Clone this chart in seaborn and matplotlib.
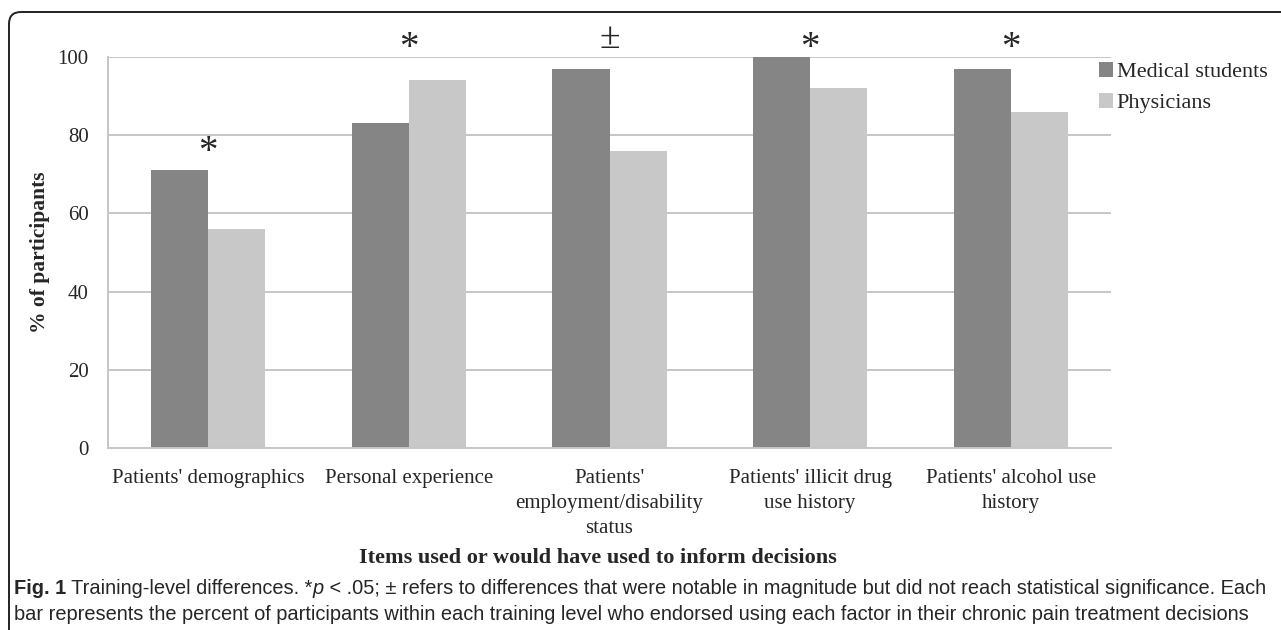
import matplotlib
matplotlib.use("Agg")
import matplotlib.pyplot as plt
import matplotlib.patches as mpatches
import matplotlib.transforms as mtransforms
import pandas as pd
import seaborn as sns

# data
items = ["Patients' demographics", "Personal experience",
         "Patients'\nemployment/disability\nstatus",
         "Patients' illicit drug\nuse history", "Patients' alcohol use\nhistory"]
medical_students = [71, 83, 97, 100, 97]
physicians = [56, 94, 76, 92, 86]
groups = ["Medical students", "Physicians"]
sig_marks = ["*", "*", "\u00b1", "*", "*"]
sig_y = [77, 103.6, 104.6, 103.6, 103.6]

df = pd.DataFrame({
    "item": items * 2,
    "pct": medical_students + physicians,
    "group": [groups[0]] * len(items) + [groups[1]] * len(items),
})

sns.set_style("white")
plt.rcParams["font.family"] = ["Liberation Serif", "DejaVu Serif"]

W, H = 1281, 630
fig = plt.figure(figsize=(W / 100, H / 100), dpi=100)
ax = fig.add_axes([108 / W, (H - 448) / H, (1111 - 108) / W, (448 - 57) / H])

sns.barplot(data=df, x="item", y="pct", hue="group", order=items, hue_order=groups,
            palette=["#858585", "#c8c8c8"], width=0.57, linewidth=0, ax=ax)

ax.set_ylim(0, 100)
ax.set_xlim(-0.5, len(items) - 0.5)
ax.set_yticks(range(0, 101, 20))
ax.grid(axis="y", color="#c6c6c6", linewidth=1.4)
ax.set_axisbelow(True)
for s in ["top", "right"]:
    ax.spines[s].set_visible(False)
for s in ["left", "bottom"]:
    ax.spines[s].set_color("#c6c6c6")
    ax.spines[s].set_linewidth(1.4)
ax.tick_params(axis="y", length=5, width=1.4, color="#c6c6c6", labelsize=15, pad=9)
ax.tick_params(axis="x", length=0, labelsize=15, pad=15)
for lab in ax.get_xticklabels():
    lab.set_linespacing(1.45)

ax.set_ylabel("% of participants", fontsize=15.5, fontweight="bold")
ax.yaxis.set_label_coords(-0.058, 0.5)
ax.set_xlabel("Items used or would have used to inform decisions", fontsize=16, fontweight="bold")
ax.xaxis.set_label_coords(0.488, -0.255)

for i, (m, y) in enumerate(zip(sig_marks, sig_y)):
    if m == "*":
        ax.text(i, y - 1.5, m, ha="center", va="center", fontsize=28, clip_on=False)
    else:
        ax.text(i, y, m, ha="center", va="center", fontsize=27, clip_on=False)

ax.legend(loc="upper left", bbox_to_anchor=(0.988, 0.988), frameon=False, fontsize=16,
          handlelength=0.65, handleheight=0.65, handletextpad=0.15, labelspacing=0.5,
          borderpad=0, borderaxespad=0)

# rounded frame around the figure panel
frame = mpatches.FancyBboxPatch((9, -30), W + 40, H - 12 + 30,
                                boxstyle="round,pad=0,rounding_size=12",
                                transform=mtransforms.IdentityTransform(),
                                fill=False, edgecolor="#222222", linewidth=1.4)
fig.patches.append(frame)

# caption
cap_font = ["Liberation Sans", "DejaVu Sans"]
renderer = fig.canvas.get_renderer()


def write_line(parts, x, y):
    for txt, weight, style in parts:
        t = fig.text(x, y, txt, fontsize=14.4, family=cap_font, fontweight=weight,
                     fontstyle=style, va="center", ha="left")
        bb = t.get_window_extent(renderer=renderer)
        x += bb.width / W


write_line([("Fig. 1", "bold", "normal"),
            (" Training-level differences. *", "normal", "normal"),
            ("p", "normal", "italic"),
            (" < .05; \u00b1 refers to differences that were notable in magnitude but did not "
             "reach statistical significance. Each", "normal", "normal")],
           14 / W, (H - 589) / H)
write_line([("bar represents the percent of participants within each training level who endorsed "
             "using each factor in their chronic pain treatment decisions", "normal", "normal")],
           14 / W, (H - 614) / H)

fig.savefig("out.png", dpi=100)
